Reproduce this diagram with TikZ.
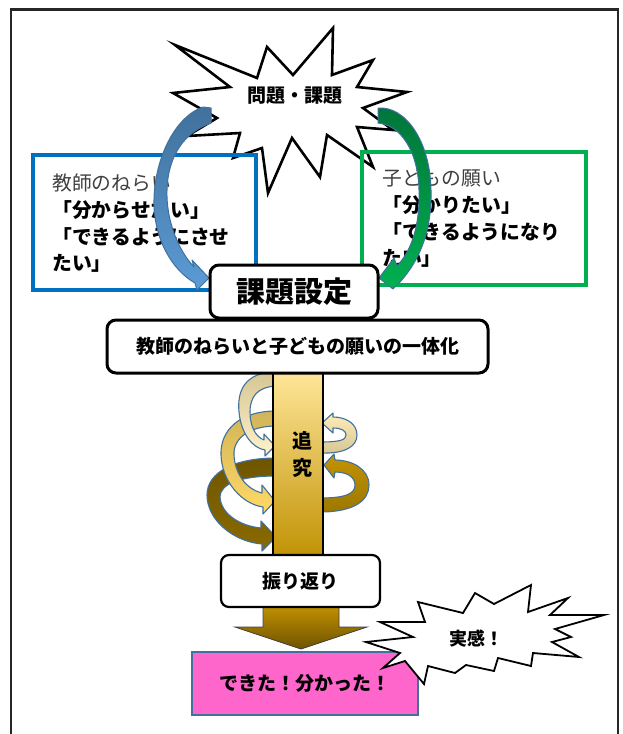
\documentclass[tikz,border=0pt]{standalone}
\usepackage{fontspec}
\newfontfamily\jp{Noto Sans CJK JP}
\definecolor{boxblue}{HTML}{0070C0}
\definecolor{boxgreen}{HTML}{00B050}
\definecolor{outl}{HTML}{41719C}
\definecolor{txtgray}{HTML}{404040}
\definecolor{pinkfill}{HTML}{FF66CC}
\definecolor{blueA}{HTML}{41719C}
\definecolor{blueB}{HTML}{5B9BD5}
\definecolor{greenA}{HTML}{00753A}
\definecolor{greenB}{HTML}{00B050}
\definecolor{tanA}{HTML}{D6C694}
\definecolor{paleY}{HTML}{FFF2CC}
\definecolor{tanB}{HTML}{D1B45A}
\definecolor{yelB}{HTML}{FFD966}
\definecolor{brnA}{HTML}{6E5500}
\definecolor{brnB}{HTML}{8A6A00}
\definecolor{goldA}{HTML}{C49400}
\definecolor{goldB}{HTML}{9C7800}
\definecolor{barA}{HTML}{FFE699}
\definecolor{barB}{HTML}{BF9000}
\definecolor{arrA}{HTML}{CC9A00}
\definecolor{arrB}{HTML}{6E5200}
\tikzset{
  burst/.style={draw=black, fill=white, line join=miter},
  swirl/.style={draw=outl, line width=1.1pt, line join=round},
  roundbox/.style={draw=black, fill=white, rounded corners=9pt},
  jptext/.style={inner sep=0pt, font=\jp\bfseries\fontsize{19}{22}\selectfont},
  boxline/.style={anchor=west, inner sep=0pt, font=\jp\bfseries\fontsize{19.8}{22}\selectfont},
  boxlinegray/.style={anchor=west, inner sep=0pt, text=txtgray, font=\jp\fontsize{19.8}{22}\selectfont},
}
\begin{document}
\begin{tikzpicture}[x=1pt,y=-1pt]
\useasboundingbox (0,0) rectangle (622,734);
\fill[white] (0,0) rectangle (622,734);
% frame
\draw[line width=2.5pt, black!85] (11,734) -- (11,9.5) -- (618,9.5) -- (618,734);

% top burst
\draw[burst, line width=2.6pt] (175,45) -- (257,78) -- (267,47) -- (293,75) -- (333,28) -- (332,75) -- (373,60) -- (357,87) -- (407,92) -- (363,108) -- (393,130) -- (357,127) -- (373,167) -- (327,135) -- (320,177) -- (292,138) -- (268,193) -- (262,148) -- (233,158) -- (240,133) -- (187,136) -- (217,118) -- (173,93) -- (230,87) -- cycle;
\node[jptext] (mondai) at (295,96) {問題・課題};

% side boxes
\node[draw=boxblue, line width=4pt, minimum width=223pt, minimum height=135pt, inner sep=0pt] (lbox) at (144.5,222.5) {};
\node[draw=boxgreen, line width=4pt, minimum width=224pt, minimum height=133pt, inner sep=0pt] (rbox) at (474,218.5) {};

\node[boxlinegray] (l1) at (52,183) {教師のねらい};
\node[boxline] (l2) at (52,210) {「分からせたい」};
\node[boxline] (l3) at (52,237) {「できるようにさせ};
\node[boxline] (l4) at (52,263) {たい」};

\node[boxlinegray] (r1) at (382,178) {子どもの願い};
\node[boxline] (r2) at (382,205) {「分かりたい」};
\node[boxline] (r3) at (382,232) {「できるようになり};
\node[boxline] (r4) at (382,258) {たい」};

% curved arrows from burst
\path[swirl, line width=1pt, top color=blueA, bottom color=blueB]
  (203,107) -- (211,108) -- (211,123)
  .. controls (185,132) and (168,155) .. (167,190)
  .. controls (166,220) and (178,250) .. (194,267)
  -- (192,260) -- (209,278) -- (197,290) -- (195,283)
  .. controls (172,270) and (155,240) .. (154,205)
  .. controls (153,165) and (172,118) .. (203,107) -- cycle;
\path[swirl, line width=1pt, top color=greenA, bottom color=greenB]
  (378,108)
  .. controls (405,106) and (430,140) .. (431,190)
  .. controls (432,230) and (420,260) .. (400,282)
  -- (393,289) -- (379,278) -- (394,258) -- (397,266)
  .. controls (412,250) and (420,225) .. (419,190)
  .. controls (418,150) and (400,125) .. (378,123) -- cycle;

% 課題設定
\node[roundbox, line width=3pt, minimum width=168pt, minimum height=53pt] (kadai) at (294,291.5) {};
\node[inner sep=0pt, font=\jp\bfseries\fontsize{29}{32}\selectfont] (kadaitxt) at (kadai) {課題設定};

% spiral arrows (left side)
\path[swirl, top color=brnA, bottom color=brnB]
  (276,458) .. controls (235,458) and (207,472) .. (207,495)
  .. controls (207,521) and (235,542) .. (262,544)
  -- (262,551) -- (276,537) -- (261,521) -- (261,528)
  .. controls (240,526) and (221,514) .. (220,497)
  .. controls (220,484) and (240,476) .. (276,476) -- cycle;
\path[swirl, top color=tanB, bottom color=yelB]
  (276,411) .. controls (240,411) and (220,430) .. (221,455)
  .. controls (222,482) and (242,504) .. (263,507)
  -- (263,514) -- (275,501) -- (262,485) -- (262,493)
  .. controls (246,489) and (235,474) .. (234,455)
  .. controls (233,438) and (250,426) .. (276,426) -- cycle;
\path[swirl, top color=tanA, bottom color=paleY]
  (276,372) .. controls (244,372) and (237,392) .. (239,412)
  .. controls (241,433) and (252,448) .. (265,450)
  -- (265,456) -- (275,446) -- (264,434) -- (264,440)
  .. controls (256,437) and (250,427) .. (250,412)
  .. controls (250,396) and (258,387) .. (276,386) -- cycle;
% spiral arrows (right side)
\path[swirl, top color=paleY!60!barA, bottom color=tanA]
  (320,453) .. controls (346,454) and (357,446) .. (357,435)
  .. controls (357,423) and (345,417) .. (333,417)
  -- (333,413) -- (322,423) -- (333,433) -- (333,428)
  .. controls (342,428) and (346,431) .. (346,435)
  .. controls (346,440) and (340,442) .. (320,442) -- cycle;
\path[swirl, top color=goldA, bottom color=goldB]
  (320,512) .. controls (355,512) and (369,500) .. (369,485)
  .. controls (369,469) and (352,460) .. (335,460)
  -- (334,454) -- (324,465) -- (334,478) -- (335,472)
  .. controls (347,472) and (355,477) .. (355,485)
  .. controls (355,494) and (345,498) .. (320,498) -- cycle;

% bar
\path[draw=black, line width=1.6pt, top color=barA, bottom color=barB] (273,372) rectangle (323,562);
\node[align=center, inner sep=0pt, font=\jp\bfseries\fontsize{20}{27}\selectfont] (tsuikyu) at (302,454) {追\\究};

% 一体化
\node[roundbox, line width=3pt, minimum width=381pt, minimum height=53pt] (ittai) at (297.5,346.5) {};
\node[jptext] (ittaitxt) at (ittai) {教師のねらいと子どもの願いの一体化};

% down arrow
\path[draw=black!75, line width=0.8pt, top color=arrA, bottom color=arrB]
  (263,600) -- (339,600) -- (339,627) -- (367,627) -- (301,649) -- (235,627) -- (263,627) -- cycle;

% 振り返り
\node[roundbox, line width=2.2pt, rounded corners=8pt, minimum width=159pt, minimum height=52pt] (furi) at (300.5,581) {};
\node[jptext] (furitxt) at (furi) {振り返り};

% pink box
\node[draw=outl, fill=pinkfill, line width=2pt, minimum width=226pt, minimum height=63pt, inner sep=0pt] (dekita) at (305,683.5) {};
\node[jptext] (dekitatxt) at (dekita) {できた！分かった！};

% 実感 burst
\draw[burst, line width=1.8pt] (380,622) -- (425,622) -- (418,602) -- (463,613) -- (475,593) -- (494,604) -- (531,585) -- (528,612) -- (568,598) -- (550,615) -- (604,615) -- (555,629) -- (571,637) -- (552,642) -- (579,657) -- (533,653) -- (531,666) -- (498,658) -- (494,671) -- (466,665) -- (455,673) -- (428,666) -- (424,684) -- (405,661) -- (383,668) -- (400,653) -- (366,642) -- (413,637) -- cycle;
\node[jptext, font=\jp\bfseries\fontsize{18}{21}\selectfont] (jikkan) at (476,639) {実感！};
\end{tikzpicture}
\end{document}
